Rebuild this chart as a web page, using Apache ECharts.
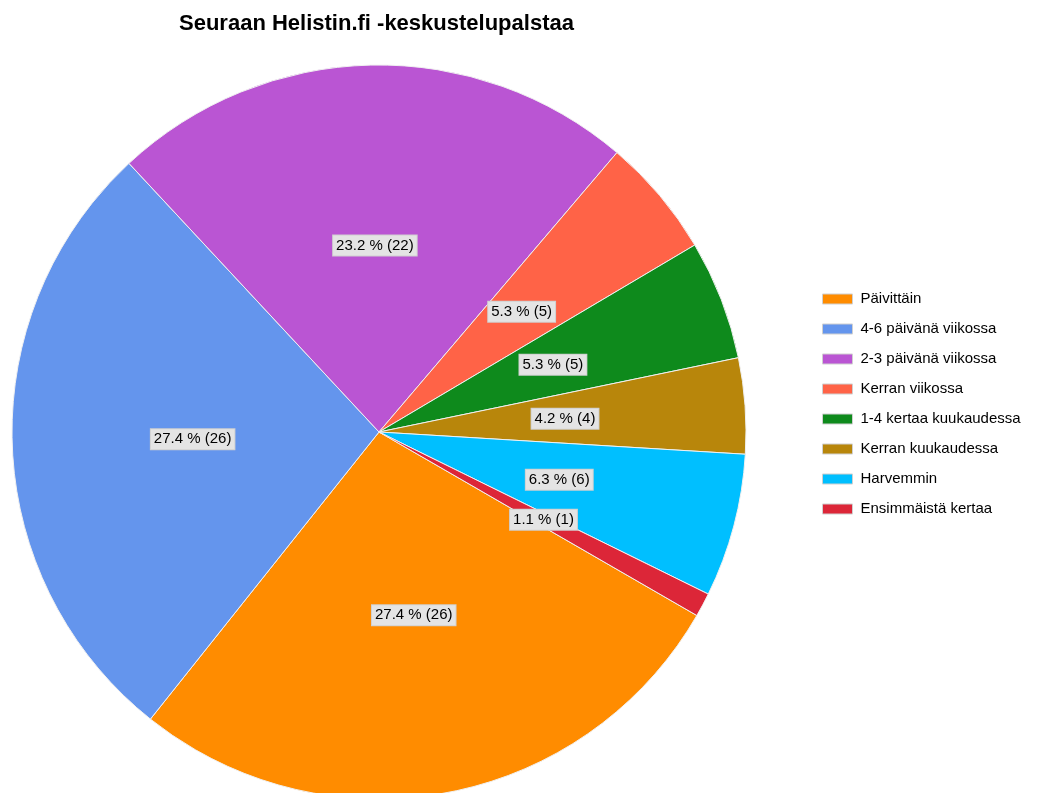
<!DOCTYPE html>
<html>
<head>
<meta charset="utf-8">
<script src="https://cdn.jsdelivr.net/npm/echarts@6/dist/echarts.min.js"></script>
<style>
  html, body { margin: 0; padding: 0; background: #fff; }
  #main { width: 1037px; height: 793px; }
</style>
</head>
<body>
<div id="main"></div>
<script>
var categories = ['Päivittäin', '4-6 päivänä viikossa', '2-3 päivänä viikossa', 'Kerran viikossa',
    '1-4 kertaa kuukaudessa', 'Kerran kuukaudessa', 'Harvemmin', 'Ensimmäistä kertaa'];
var counts = [26, 26, 22, 5, 5, 4, 6, 1];
var colors = ['#ff8c00', '#6495ed', '#ba55d3', '#ff6347', '#0e8a1c', '#b8860b', '#00bfff', '#dc2638'];

var total = counts.reduce(function (a, b) { return a + b; }, 0);
var pieData = [];
for (var i = 0; i < categories.length; i++) {
    pieData.push({ name: categories[i], value: counts[i] });
}

var chart = echarts.init(document.getElementById('main'));

var option = {
    animation: false,
    color: colors,
    title: {
        text: 'Seuraan Helistin.fi -keskustelupalstaa',
        left: 174,
        top: 8,
        textStyle: {
            fontFamily: 'Liberation Sans, Arial, sans-serif',
            fontWeight: 'bold',
            fontSize: 22,
            color: '#000'
        }
    },
    legend: {
        orient: 'vertical',
        left: 817,
        top: 286,
        icon: 'rect',
        itemWidth: 30,
        itemHeight: 10,
        itemGap: 14,
        data: categories,
        itemStyle: { borderColor: '#d0d0d0', borderWidth: 1 },
        textStyle: {
            fontFamily: 'Liberation Sans, Arial, sans-serif',
            fontSize: 15,
            lineHeight: 16,
            padding: [0, 0, 0, 3],
            color: '#000'
        }
    },
    series: [{
        type: 'pie',
        center: [379, 432],
        radius: 367,
        startAngle: -30,
        clockwise: true,
        data: pieData,
        itemStyle: { borderColor: '#f0f0f0', borderWidth: 1 },
        emphasis: { disabled: true },
        label: {
            position: 'inside',
            formatter: function (p) {
                return (p.value / total * 100).toFixed(1) + ' % (' + p.value + ')';
            },
            fontFamily: 'Liberation Sans, Arial, sans-serif',
            fontSize: 15,
            color: '#000',
            backgroundColor: '#e4e4e4',
            borderColor: '#d0d0d0',
            borderWidth: 1,
            padding: [3, 3, 2, 3]
        },
        labelLine: { show: false }
    }]
};

chart.setOption(option);
</script>
</body>
</html>
